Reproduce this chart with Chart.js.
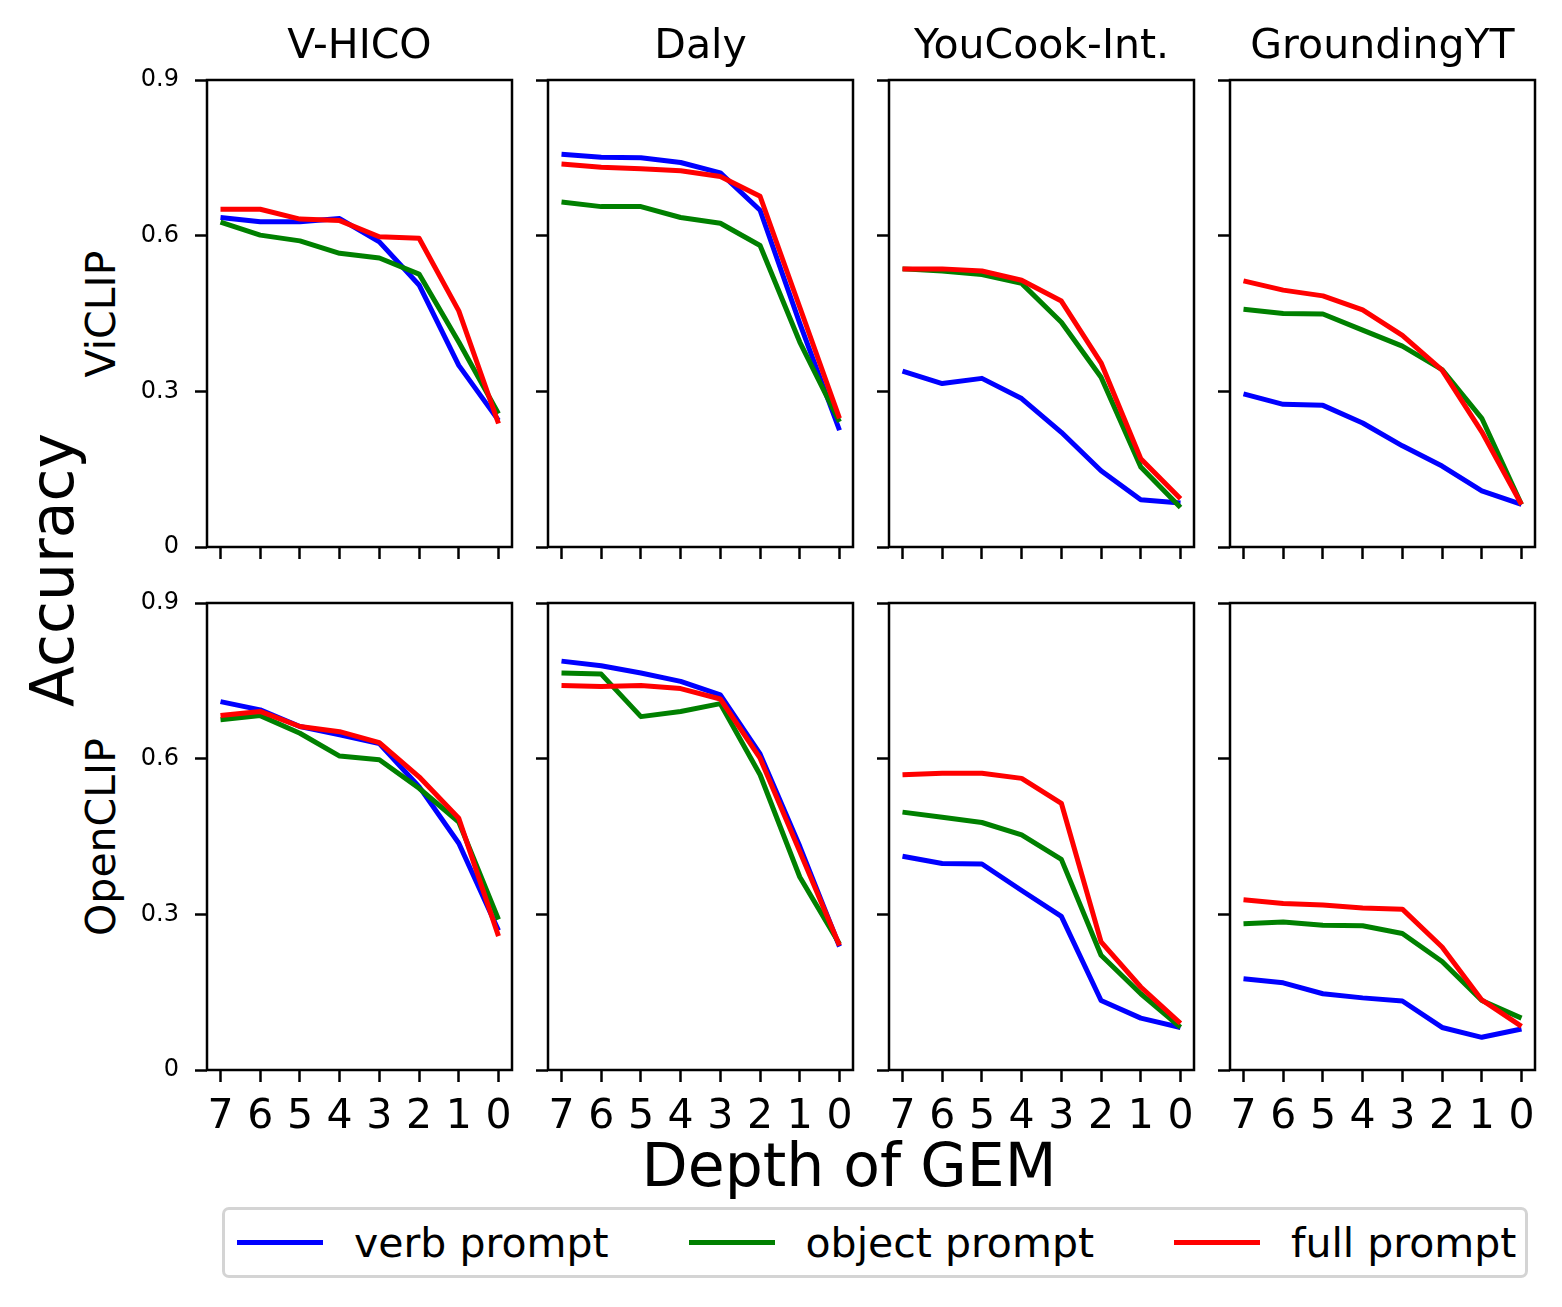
<!DOCTYPE html>
<html>
<head>
<meta charset="utf-8">
<script src="https://cdn.jsdelivr.net/npm/chart.js@4.4.1/dist/chart.umd.min.js"></script>
<style>
  html, body { margin: 0; padding: 0; background: #fff; }
  #fig { position: relative; width: 1562px; height: 1307px; font-family: 'DejaVu Sans', sans-serif; color: #000; }
  #fig canvas { position: absolute; }
  .lbl { position: absolute; white-space: nowrap; transform: translate(-50%, -50%); line-height: normal; }
  .rot { transform: translate(-50%, -50%) rotate(-90deg); }
  #legend { position: absolute; left: 222px; top: 1207px; width: 1306px; height: 71px; box-sizing: border-box;
            border: 3px solid #d4d4d4; border-radius: 7px; display: flex; align-items: center; padding-left: 12px; }
  .item { display: flex; align-items: center; margin-right: 80px; font-size: 41px; }
  .item:last-child { margin-right: 0; }
  .swatch { width: 86px; height: 5px; margin-right: 31px; }
</style>
</head>
<body>
<div id="fig"></div>
<script>
// x positions: depth of GEM
const depths = [7, 6, 5, 4, 3, 2, 1, 0];
const yTicks = [0, 0.3, 0.6, 0.9];

const benchmarks = ['V-HICO', 'Daly', 'YouCook-Int.', 'GroundingYT'];
const models = ['ViCLIP', 'OpenCLIP'];
const seriesNames = ['verb prompt', 'object prompt', 'full prompt'];
const seriesColors = ['blue', 'green', 'red'];

// ViCLIP
const vhicoViVerb = [0.635, 0.627, 0.627, 0.633, 0.588, 0.505, 0.350, 0.244];
const vhicoViObj  = [0.626, 0.601, 0.590, 0.566, 0.557, 0.526, 0.395, 0.257];
const vhicoViFull = [0.651, 0.651, 0.632, 0.629, 0.598, 0.595, 0.455, 0.238];

const dalyViVerb = [0.757, 0.751, 0.750, 0.741, 0.721, 0.649, 0.431, 0.225];
const dalyViObj  = [0.665, 0.656, 0.656, 0.635, 0.624, 0.581, 0.395, 0.241];
const dalyViFull = [0.738, 0.732, 0.729, 0.725, 0.714, 0.676, 0.462, 0.248];

const youcookViVerb = [0.339, 0.315, 0.325, 0.286, 0.221, 0.147, 0.091, 0.085];
const youcookViObj  = [0.536, 0.532, 0.525, 0.508, 0.433, 0.327, 0.154, 0.076];
const youcookViFull = [0.536, 0.536, 0.532, 0.514, 0.474, 0.355, 0.170, 0.093];

const groundViVerb = [0.295, 0.275, 0.273, 0.239, 0.195, 0.156, 0.108, 0.082];
const groundViObj  = [0.458, 0.450, 0.449, 0.418, 0.387, 0.342, 0.248, 0.082];
const groundViFull = [0.513, 0.495, 0.484, 0.457, 0.408, 0.341, 0.222, 0.082];

// OpenCLIP
const vhicoOpVerb = [0.710, 0.694, 0.662, 0.646, 0.629, 0.546, 0.437, 0.269];
const vhicoOpObj  = [0.675, 0.683, 0.649, 0.605, 0.598, 0.543, 0.478, 0.290];
const vhicoOpFull = [0.683, 0.691, 0.662, 0.652, 0.631, 0.565, 0.485, 0.258];

const dalyOpVerb = [0.788, 0.779, 0.765, 0.749, 0.723, 0.609, 0.431, 0.238];
const dalyOpObj  = [0.765, 0.763, 0.681, 0.691, 0.706, 0.569, 0.372, 0.243];
const dalyOpFull = [0.741, 0.739, 0.741, 0.735, 0.715, 0.601, 0.421, 0.240];

const youcookOpVerb = [0.412, 0.398, 0.397, 0.346, 0.296, 0.134, 0.100, 0.082];
const youcookOpObj  = [0.497, 0.487, 0.477, 0.453, 0.406, 0.221, 0.147, 0.082];
const youcookOpFull = [0.569, 0.572, 0.572, 0.562, 0.514, 0.247, 0.160, 0.090];

const groundOpVerb = [0.176, 0.168, 0.147, 0.139, 0.133, 0.082, 0.063, 0.079];
const groundOpObj  = [0.282, 0.285, 0.279, 0.278, 0.263, 0.209, 0.134, 0.100];
const groundOpFull = [0.328, 0.321, 0.318, 0.312, 0.310, 0.237, 0.135, 0.084];

const grid = [
  [[vhicoViVerb, vhicoViObj, vhicoViFull], [dalyViVerb, dalyViObj, dalyViFull],
   [youcookViVerb, youcookViObj, youcookViFull], [groundViVerb, groundViObj, groundViFull]],
  [[vhicoOpVerb, vhicoOpObj, vhicoOpFull], [dalyOpVerb, dalyOpObj, dalyOpFull],
   [youcookOpVerb, youcookOpObj, youcookOpFull], [groundOpVerb, groundOpObj, groundOpFull]]
];

// layout of the subplot grid (page pixels)
const colLeft = [207, 548, 889, 1230];
const rowTop = [80, 603];
const plotW = 305, plotH = 467;
const padL = 80, padT = 24, padR = 12, padB = 80;

Chart.defaults.font.family = "'DejaVu Sans', sans-serif";
Chart.defaults.color = '#000';

// box around each axes, like matplotlib spines
const frame = {
  id: 'frame',
  afterDatasetsDraw(chart) {
    const { ctx, chartArea: a } = chart;
    ctx.save();
    ctx.strokeStyle = '#000';
    ctx.lineWidth = 2.5;
    ctx.strokeRect(a.left, a.top, a.right - a.left, a.bottom - a.top);
    ctx.restore();
  }
};

const fig = document.getElementById('fig');

function addLabel(text, x, y, size, rotate) {
  const d = document.createElement('div');
  d.className = 'lbl' + (rotate ? ' rot' : '');
  d.style.left = x + 'px';
  d.style.top = y + 'px';
  d.style.fontSize = size + 'px';
  d.textContent = text;
  fig.appendChild(d);
}

// keep every axes box the same size regardless of its tick labels
function fixSize(s, w, h) {
  if (w !== null) s.width = w;
  if (h !== null) s.height = h;
  s.paddingTop = 0;
  s.paddingBottom = 0;
  s.paddingLeft = 0;
  s.paddingRight = 0;
}

const tickGrid = {
  display: true, drawOnChartArea: false, drawTicks: true,
  tickLength: 12, tickWidth: 2.5, tickColor: '#000'
};

models.forEach((model, r) => {
  benchmarks.forEach((bench, c) => {
    const canvas = document.createElement('canvas');
    canvas.width = padL + plotW + padR;
    canvas.height = padT + plotH + padB;
    canvas.style.left = (colLeft[c] - padL) + 'px';
    canvas.style.top = (rowTop[r] - padT) + 'px';
    fig.appendChild(canvas);

    const datasets = grid[r][c].map((vals, k) => ({
      label: seriesNames[k],
      data: depths.map((d, i) => ({ x: d, y: vals[i] })),
      borderColor: seriesColors[k],
      backgroundColor: seriesColors[k],
      borderWidth: 5,
      pointRadius: 0,
      tension: 0,
      borderJoinStyle: 'round',
      order: 3 - k
    }));

    new Chart(canvas, {
      type: 'line',
      data: { datasets },
      plugins: [frame],
      options: {
        responsive: false,
        animation: false,
        devicePixelRatio: 1,
        layout: { padding: { top: padT, right: padR, left: 0, bottom: 0 } },
        plugins: { legend: { display: false }, tooltip: { enabled: false } },
        scales: {
          x: {
            type: 'linear', reverse: true, min: -0.34, max: 7.34,
            afterBuildTicks: s => { s.ticks = depths.map(v => ({ value: v })); },
            afterFit: s => fixSize(s, null, padB),
            grid: tickGrid,
            border: { display: false },
            ticks: { display: r === 1, autoSkip: false, maxRotation: 0, padding: 11,
                     font: { size: 41 }, callback: v => String(v) }
          },
          y: {
            type: 'linear', min: 0, max: 0.9,
            afterBuildTicks: s => { s.ticks = yTicks.map(v => ({ value: v })); },
            afterFit: s => fixSize(s, padL, null),
            grid: tickGrid,
            border: { display: false },
            ticks: { display: c === 0, padding: 16, font: { size: 24 },
                     callback: v => (v === 0 ? '0' : v.toFixed(1)) }
          }
        }
      }
    });

    if (r === 0) addLabel(bench, colLeft[c] + plotW / 2, 44, 41, false);
  });
  addLabel(model, 101, rowTop[r] + plotH / 2, 41, true);
});

addLabel('Accuracy', 52, 570, 60, true);
addLabel('Depth of GEM', 849, 1165, 60, false);

// legend
const legend = document.createElement('div');
legend.id = 'legend';
seriesNames.forEach((name, k) => {
  const item = document.createElement('div');
  item.className = 'item';
  const sw = document.createElement('div');
  sw.className = 'swatch';
  sw.style.background = seriesColors[k];
  const t = document.createElement('span');
  t.textContent = name;
  item.appendChild(sw);
  item.appendChild(t);
  legend.appendChild(item);
});
fig.appendChild(legend);
</script>
</body>
</html>
